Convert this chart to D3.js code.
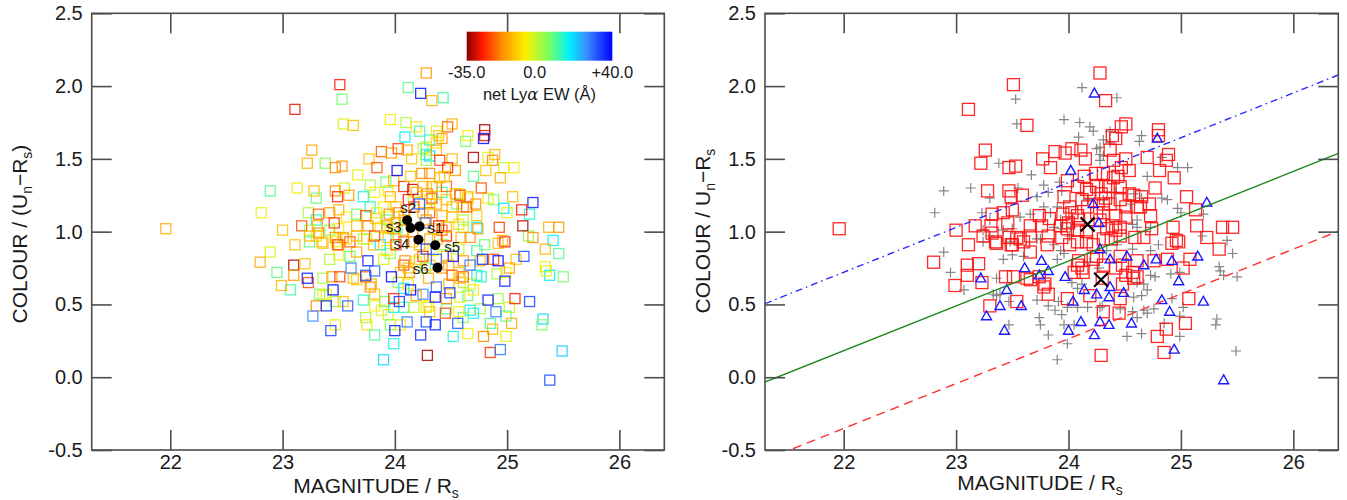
<!DOCTYPE html>
<html>
<head>
<meta charset="utf-8">
<script src="https://cdnjs.cloudflare.com/ajax/libs/d3/7.8.5/d3.min.js"></script>
<style>
  body { margin: 0; background: #fff; }
  svg text { font-family: "Liberation Sans", Arial, Helvetica, sans-serif; fill: #1a1a1a; }
</style>
</head>
<body>
<svg id="chart" width="1347" height="500"></svg>
<script>
// ---- data: [magnitude R_s, colour Un-Rs, net Lya EW] ----
// absorbers (red squares on the right), EW clearly negative
const absorbers = [
  [24.28,2.09,-15],[24.33,1.90,-12],[23.51,2.01,-27],[23.11,1.84,-28],[23.63,1.73,-11],[23.26,1.56,-13],
  [23.22,1.47,-12],[23.47,1.44,-17],[23.53,1.45,-16],[23.77,1.50,-10],[23.88,1.55,-21],[23.97,1.54,-15],
  [24.03,1.57,-24],[24.11,1.56,-13],[24.15,1.50,-9],[23.84,1.44,-22],[23.28,1.28,-11],[23.47,1.28,-16],
  [23.49,1.24,-26],[23.59,1.25,-15],[23.99,1.35,-12],[24.08,1.31,-25],[24.14,1.38,-10],[24.24,1.40,-17],
  [23.96,1.24,-13],[24.12,1.22,-27],[24.01,1.17,-11],[23.32,1.12,-21],[23.42,1.13,-15],[23.50,1.15,-12],
  [23.74,1.11,-23],[23.83,1.09,-9],[23.95,1.12,-16],[24.08,1.11,-11],[23.00,1.01,-10],[23.17,1.04,-22],
  [23.31,1.04,-13],[23.46,1.06,-25],[23.66,1.04,-11],[23.76,1.04,-17],[23.93,1.04,-15],[24.51,1.74,-12],
  [24.47,1.72,-21],[24.39,1.66,-10],[24.42,1.64,-16],[24.80,1.70,-34],[24.80,1.66,-29],[24.37,1.56,-13],
  [24.40,1.49,-23],[24.51,1.50,-11],[24.54,1.42,-15],[24.47,1.44,-26],[24.70,1.51,-33],[24.89,1.53,-12],
  [24.87,1.49,-17],[24.81,1.42,-10],[24.94,1.37,-13],[24.77,1.30,-22],[25.05,1.24,-11],[25.13,1.15,-27],
  [24.33,1.31,-15],[24.37,1.31,-10],[24.46,1.31,-21],[24.54,1.26,-12],[24.58,1.25,-25],[24.65,1.24,-11],
  [24.72,1.19,-16],[24.42,1.11,-13],[24.31,1.13,-23],[24.73,1.11,-10],[24.61,1.17,-17],[24.51,1.17,-12],
  [24.74,1.02,-15],[24.93,1.03,-24],[25.14,1.04,-33],[25.37,1.03,-12],[25.46,1.03,-16],[22.80,0.79,-13],
  [23.11,0.91,-11],[23.10,0.77,-33],[23.10,0.70,-15],[23.20,0.78,-10],[22.99,0.63,-12],[23.23,0.65,-22],
  [23.30,0.49,-17],[23.54,0.52,-11],[23.44,0.69,-15],[23.51,0.69,-24],[23.63,0.68,-12],[23.66,0.67,-9],
  [23.74,0.69,-21],[23.79,0.64,-13],[23.78,0.62,-16],[23.82,0.57,-11],[23.99,0.54,-26],[24.29,0.15,-33],
  [24.19,0.56,-15],[24.05,0.72,-10],[24.08,0.77,-22],[24.12,0.75,-12],[24.09,0.80,-16],[23.66,0.86,-13],
  [23.81,0.91,-11],[23.82,0.97,-23],[23.50,0.91,-15],[23.57,0.95,-10],[23.32,0.99,-17],[23.24,0.97,-12],
  [24.25,0.83,-25],[24.22,0.91,-13],[24.16,0.93,-9],[24.08,0.93,-21],[24.46,0.83,-11],[24.61,0.80,-16],
  [24.76,0.80,-12],[24.88,0.81,-22],[25.08,0.81,-10],[25.02,0.75,-15],[25.34,0.88,-12],[25.23,0.96,-17],
  [24.92,0.92,-11],[24.98,0.93,-27],[24.48,0.77,-13],[24.57,0.72,-10],[24.61,0.69,-21],[24.48,0.64,-12],
  [24.46,0.54,-16],[24.31,0.45,-11],[24.45,0.44,-23],[25.07,0.54,-27],[25.04,0.37,-13],[24.87,0.33,-11],
  [24.79,0.28,-17],[24.85,0.17,-25],[21.96,1.02,-13],[23.35,0.93,-11],[23.47,0.96,-16],[23.49,0.91,-22],
  [24.16,1.29,-32],[24.96,0.94,-12],[24.13,0.72,-15],[24.22,0.81,-10],[24.16,1.00,-17],[24.08,1.01,-12],
  [24.01,0.91,-24],[23.94,0.96,-11],[23.99,1.02,-15],[24.34,1.02,-9],[24.42,1.01,-21],[24.31,0.95,-13],
  [24.38,0.95,-11],[24.46,0.97,-26],[24.59,0.96,-12],[24.67,0.96,-16],[24.31,0.77,-10],[24.42,0.75,-15],
  [24.51,0.70,-22],[24.58,0.68,-11],[24.30,0.68,-13],[24.31,1.40,-17],[24.40,1.37,-12],[24.44,1.38,-10],
  [24.33,1.23,-23],[24.37,1.19,-13],[24.46,1.22,-11],[24.28,1.08,-16],[24.39,1.04,-28],[24.46,1.03,-12],
  [24.51,1.10,-10],[24.64,1.17,-21],[24.19,1.27,-13],[24.25,1.31,-11],[24.29,1.26,-16],[24.17,1.17,-24],
  [24.25,1.13,-12],[24.31,1.19,-9],[24.03,1.13,-17],[24.09,1.08,-13],[24.00,1.06,-11],[23.54,0.96,-15],
  [23.60,0.93,-22],[23.66,0.97,-12],[23.36,0.92,-10]
];

// neither (grey crosses on the right), EW near zero
const neutrals = [
  [24.12,1.99,10],[23.53,1.91,8],[23.54,1.74,-2],[23.96,1.77,-4],[24.10,1.75,3],[24.19,1.72,-6],
  [24.22,1.69,12],[24.09,1.65,18],[23.38,1.47,6],[23.67,1.39,-3],[24.25,1.57,1],[24.31,1.63,14],
  [22.89,1.28,11],[23.13,1.30,-4],[23.30,1.23,9],[23.55,1.30,-1],[23.78,1.32,4],[23.82,1.27,-5],
  [23.72,1.24,16],[22.81,1.13,-3],[23.23,1.13,2],[23.57,1.10,-6],[23.66,1.12,7],[24.43,1.92,12],
  [24.37,1.69,-2],[24.65,1.66,-5],[24.63,1.62,8],[24.31,1.52,20],[24.83,1.51,-3],[24.97,1.44,1],
  [25.06,1.44,-6],[24.70,1.38,10],[25.20,1.12,15],[24.83,1.23,-4],[24.88,1.22,6],[24.97,1.16,19],
  [25.00,1.13,-2],[24.61,1.08,3],[24.57,1.05,-7],[22.89,0.86,-2],[22.95,0.72,9],[23.07,0.60,12],
  [23.36,0.56,-3],[23.47,0.52,5],[23.47,0.36,-4],[23.42,0.81,2],[23.72,0.53,14],[23.82,0.49,-5],
  [23.91,0.52,8],[23.88,0.46,-1],[23.99,0.48,19],[23.74,0.41,4],[23.75,0.36,-6],[23.82,0.29,11],
  [23.94,0.43,-2],[23.96,0.36,7],[23.99,0.23,16],[23.90,0.12,20],[24.05,0.36,-3],[24.03,0.65,5],
  [24.12,0.64,-6],[24.08,0.48,13],[24.17,0.48,1],[23.50,0.84,-4],[23.60,0.83,9],[23.90,0.81,-1],
  [23.96,0.85,6],[23.93,0.87,-5],[23.36,0.68,3],[25.46,0.85,11],[25.34,0.76,-3],[25.38,0.70,17],
  [25.50,0.69,8],[24.99,0.72,-4],[24.91,0.71,2],[24.77,0.69,14],[24.67,0.64,-2],[24.65,0.56,9],
  [24.70,0.60,-6],[24.67,0.46,18],[24.92,0.54,4],[25.02,0.48,-1],[24.85,0.37,12],[24.99,0.28,-3],
  [25.32,0.40,20],[25.31,0.36,7],[25.49,0.18,21],[24.52,0.28,15],[24.65,0.30,-4],[24.99,0.42,10],
  [24.76,0.47,3],[24.57,0.45,-5],[24.70,0.44,17],[24.61,0.41,6],[25.35,0.73,-2],[23.33,0.57,8],
  [23.39,0.57,-3],[23.30,1.08,13],[23.50,1.02,-5],[23.24,1.01,4],[23.30,0.97,-1],[23.92,1.34,9],
  [23.94,1.28,-4],[24.28,1.58,2],[24.28,1.53,15],[24.37,1.61,-6],[25.19,0.97,6],[25.41,0.94,18],
  [23.93,1.02,-2],[24.01,0.97,11],[24.19,0.79,-4],[24.27,0.75,7],[24.08,0.61,19],[24.28,0.48,-3],
  [24.43,0.91,5],[24.57,0.88,-1],[24.73,0.87,13],[24.34,0.87,-5],[24.80,0.91,8],[24.61,0.65,2],
  [24.73,0.70,16],[24.58,0.55,-2],[24.46,0.47,10],[24.30,0.49,-6],[24.28,1.49,4],[24.31,1.22,-3],
  [24.42,1.27,12],[24.58,1.26,-1],[24.55,1.19,7],[24.65,1.23,-4],[24.73,1.03,17],[24.61,1.03,3],
  [23.90,1.17,-5],[23.93,1.08,9],[24.17,1.22,1],[23.78,1.17,14],[23.87,1.03,-3],[24.02,1.03,6],
  [23.84,1.13,-1],[23.24,0.93,10],[23.48,0.93,-4],[23.42,1.01,5],[23.75,0.95,-2],[23.87,0.91,18],
  [23.72,0.95,3]
];

// emitters (blue triangles on the right), EW clearly positive
const emitters = [
  [24.23,1.95,38],[24.02,1.42,40],[24.22,1.19,32],[24.27,1.06,29],[24.79,1.64,39],[25.23,1.20,37],
  [23.22,0.68,38],[23.27,0.42,27],[23.39,0.49,36],[23.45,0.60,40],[23.58,0.49,31],[23.43,0.32,34],
  [23.61,0.75,28],[23.74,0.70,33],[23.76,0.80,37],[23.82,0.73,30],[23.97,0.69,39],[24.04,0.52,35],
  [24.00,0.32,38],[24.11,0.38,29],[24.23,0.29,36],[24.28,0.38,33],[24.14,0.60,40],[24.25,0.57,27],
  [24.28,0.88,34],[24.37,0.81,31],[24.52,0.83,38],[24.67,0.77,29],[24.78,0.81,36],[24.92,0.80,40],
  [25.15,0.83,33],[24.98,0.66,37],[24.37,0.62,30],[24.49,0.58,35],[24.36,0.55,39],[24.83,0.53,38],
  [25.20,0.52,34],[24.90,0.45,28],[24.36,0.36,37],[24.56,0.37,32],[24.94,0.19,29],[25.38,-0.02,33]
];

// stacked knots s1..s6 (black dots, left panel)
const knotNames = ['s1', 's2', 's3', 's4', 's5', 's6'];
const knotMags  = [24.22, 24.11, 24.14, 24.21, 24.36, 24.38];
const knotCols  = [1.036, 1.078, 1.025, 0.945, 0.906, 0.752];

// stacks (black crosses, right panel)
const stackMags = [24.17, 24.29];
const stackCols = [1.05, 0.67];

// parallel colour-magnitude lines: colour = slope * mag + intercept
const fitSlope = 0.308;
const fitIntercepts = [-6.055, -6.594, -7.128];

// axis / colour bar
const magDomain = [21.3, 26.4];
const colDomain = [-0.5, 2.5];
const magTicks = [22, 23, 24, 25, 26];
const colTicks = [-0.5, 0.0, 0.5, 1.0, 1.5, 2.0, 2.5];
const ewStops = [-35, -27, -17, -5, 7, 18, 27, 40];
const ewBarLabels = ['-35.0', '0.0', '+40.0'];
const ewBarValues = [-35, 0, 40];

// ---- styling ----
const ewColours = ['#8b0000', '#ff1a00', '#ff8c00', '#ffee00', '#7dff5a', '#00f0ff', '#3a8cff', '#0000ff'];
const ewColor = d3.scaleLinear().domain(ewStops).range(ewColours).clamp(true);
const lineStyles = [
  { stroke: '#2a2aff', dash: '7,4,1.5,4' },
  { stroke: '#1f8a1f', dash: null },
  { stroke: '#ff3030', dash: '9,6' }
];
const knotLabelPlace = {
  s1: { dx: 8, dy: 7, anchor: 'start' },
  s2: { dx: 1, dy: -7, anchor: 'middle' },
  s3: { dx: -9, dy: 4, anchor: 'end' },
  s4: { dx: -9, dy: 9, anchor: 'end' },
  s5: { dx: 9, dy: 7, anchor: 'start' },
  s6: { dx: -9, dy: 6, anchor: 'end' }
};
const axisColour = '#4d4d4d';

const svg = d3.select('#chart');
const panelTop = 13.3, panelH = 436.7;

function makePanel(left, width, id) {
  const g = svg.append('g').attr('transform', `translate(${left},${panelTop})`);
  const x = d3.scaleLinear().domain(magDomain).range([0, width]);
  const y = d3.scaleLinear().domain(colDomain).range([panelH, 0]);
  g.append('clipPath').attr('id', id).append('rect').attr('width', width).attr('height', panelH);
  return { g, x, y, width, left, id };
}

function drawAxes(p) {
  const styleAxis = sel => {
    sel.select('.domain').remove();
    sel.selectAll('.tick line').attr('stroke', axisColour).attr('stroke-width', 1.6);
    sel.selectAll('.tick text').style('font-size', '20px');
  };
  p.g.append('g').attr('transform', `translate(0,${panelH})`)
    .call(d3.axisBottom(p.x).tickValues(magTicks).tickFormat(d => d).tickSize(-20).tickPadding(5))
    .call(styleAxis);
  p.g.append('g')
    .call(d3.axisTop(p.x).tickValues(magTicks).tickFormat('').tickSize(-20))
    .call(styleAxis);
  p.g.append('g')
    .call(d3.axisLeft(p.y).tickValues(colTicks).tickFormat(d => d.toFixed(1)).tickSize(-20).tickPadding(9))
    .call(styleAxis);
  p.g.append('g').attr('transform', `translate(${p.width},0)`)
    .call(d3.axisRight(p.y).tickValues(colTicks).tickFormat('').tickSize(-20))
    .call(styleAxis);
  p.g.append('rect')
    .attr('width', p.width).attr('height', panelH)
    .attr('fill', 'none').attr('stroke', axisColour).attr('stroke-width', 1.6);
}

function subText(sel, parts) {
  // parts: [text, isSub]
  let shifted = false;
  parts.forEach(([t, sub]) => {
    const ts = sel.append('tspan').text(t);
    if (sub && !shifted) { ts.attr('dy', 5).style('font-size', '14px'); shifted = true; }
    else if (!sub && shifted) { ts.attr('dy', -5); shifted = false; }
    else if (sub) ts.style('font-size', '14px');
  });
}

function xTitle(cx, baseline) {
  const t = svg.append('text').attr('x', cx).attr('y', baseline)
    .attr('text-anchor', 'middle').style('font-size', '21px');
  subText(t, [['MAGNITUDE / R', false], ['s', true]]);
}

function yTitle(cx, cy, parts) {
  const t = svg.append('text').attr('transform', `translate(${cx},${cy}) rotate(-90)`)
    .attr('text-anchor', 'middle').style('font-size', '21px');
  subText(t, parts);
}

// ---------------- left panel ----------------
const L = makePanel(91.7, 572.6, 'clipL');
const allObjects = neutrals.concat(absorbers, emitters);

L.g.append('g').attr('clip-path', 'url(#clipL)')
  .selectAll('rect')
  .data(allObjects)
  .join('rect')
  .attr('x', d => L.x(d[0]) - 5)
  .attr('y', d => L.y(d[1]) - 5)
  .attr('width', 10).attr('height', 10)
  .attr('fill', 'none')
  .attr('stroke', d => ewColor(d[2]))
  .attr('stroke-width', 1.3)
  .attr('stroke-opacity', 0.85);

const knots = knotNames.map((n, i) => ({ name: n, mag: knotMags[i], col: knotCols[i] }));
L.g.selectAll('circle.knot')
  .data(knots)
  .join('circle')
  .attr('class', 'knot')
  .attr('cx', d => L.x(d.mag)).attr('cy', d => L.y(d.col))
  .attr('r', 5).attr('fill', '#000');
L.g.selectAll('text.knot')
  .data(knots)
  .join('text')
  .attr('class', 'knot')
  .attr('x', d => L.x(d.mag) + knotLabelPlace[d.name].dx)
  .attr('y', d => L.y(d.col) + knotLabelPlace[d.name].dy)
  .attr('text-anchor', d => knotLabelPlace[d.name].anchor)
  .style('font-size', '15px')
  .text(d => d.name);

drawAxes(L);

// colour bar
const bar = { x: 466.7, y: 31.7, w: 145.6, h: 29 };
const defs = svg.append('defs');
const grad = defs.append('linearGradient').attr('id', 'ewGradient');
grad.selectAll('stop')
  .data(ewStops)
  .join('stop')
  .attr('offset', d => (d - ewStops[0]) / (ewStops[ewStops.length - 1] - ewStops[0]))
  .attr('stop-color', d => ewColor(d));
svg.append('rect')
  .attr('x', bar.x).attr('y', bar.y).attr('width', bar.w).attr('height', bar.h)
  .attr('fill', 'url(#ewGradient)');
const barScale = d3.scaleLinear().domain([ewStops[0], ewStops[ewStops.length - 1]]).range([bar.x, bar.x + bar.w]);
svg.selectAll('text.barlab')
  .data(ewBarValues)
  .join('text')
  .attr('class', 'barlab')
  .attr('x', d => barScale(d)).attr('y', 77.5)
  .attr('text-anchor', 'middle')
  .style('font-size', '16.5px')
  .text((d, i) => ewBarLabels[i]);
const barTitle = svg.append('text').attr('x', 539.5).attr('y', 99.5)
  .attr('text-anchor', 'middle').style('font-size', '16.5px');
barTitle.append('tspan').text('net Ly');
barTitle.append('tspan').style('font-style', 'italic').style('font-family', '"DejaVu Serif", serif').text('α');
barTitle.append('tspan').text(' EW (Å)');

xTitle(376, 493);
yTitle(27, 234, [['COLOUR / (U', false], ['n', true], ['−R', false], ['s', true], [')', false]]);

// ---------------- right panel ----------------
const R = makePanel(765, 573.3, 'clipR');
const plot = R.g.append('g').attr('clip-path', 'url(#clipR)');

plot.append('g').selectAll('path')
  .data(neutrals)
  .join('path')
  .attr('transform', d => `translate(${R.x(d[0])},${R.y(d[1])})`)
  .attr('d', 'M-5,0H5M0,-5V5')
  .attr('stroke', '#858585').attr('stroke-width', 1.2).attr('fill', 'none');

plot.append('g').selectAll('rect')
  .data(absorbers)
  .join('rect')
  .attr('x', d => R.x(d[0]) - 6)
  .attr('y', d => R.y(d[1]) - 6)
  .attr('width', 12).attr('height', 12)
  .attr('fill', 'none').attr('stroke', '#ff1010').attr('stroke-width', 1.3)
  .attr('stroke-opacity', 0.9);

plot.append('g').selectAll('path')
  .data(emitters)
  .join('path')
  .attr('transform', d => `translate(${R.x(d[0])},${R.y(d[1])})`)
  .attr('d', 'M0,-5.2L5,3.6L-5,3.6Z')
  .attr('fill', 'none').attr('stroke', '#1a1aff').attr('stroke-width', 1.4);

const line = d3.line().x(d => R.x(d[0])).y(d => R.y(d[1]));
plot.append('g').selectAll('path')
  .data(fitIntercepts)
  .join('path')
  .attr('d', b => line(magDomain.map(m => [m, fitSlope * m + b])))
  .attr('fill', 'none')
  .attr('stroke', (b, i) => lineStyles[i].stroke)
  .attr('stroke-width', 1.4)
  .attr('stroke-dasharray', (b, i) => lineStyles[i].dash);

plot.append('g').selectAll('path')
  .data(stackMags.map((m, i) => [m, stackCols[i]]))
  .join('path')
  .attr('transform', d => `translate(${R.x(d[0])},${R.y(d[1])})`)
  .attr('d', 'M-7,-7L7,7M-7,7L7,-7')
  .attr('stroke', '#000').attr('stroke-width', 2.2).attr('fill', 'none');

drawAxes(R);

xTitle(1040, 490);
yTitle(710, 231, [['COLOUR / U', false], ['n', true], ['−R', false], ['s', true]]);
</script>
</body>
</html>
